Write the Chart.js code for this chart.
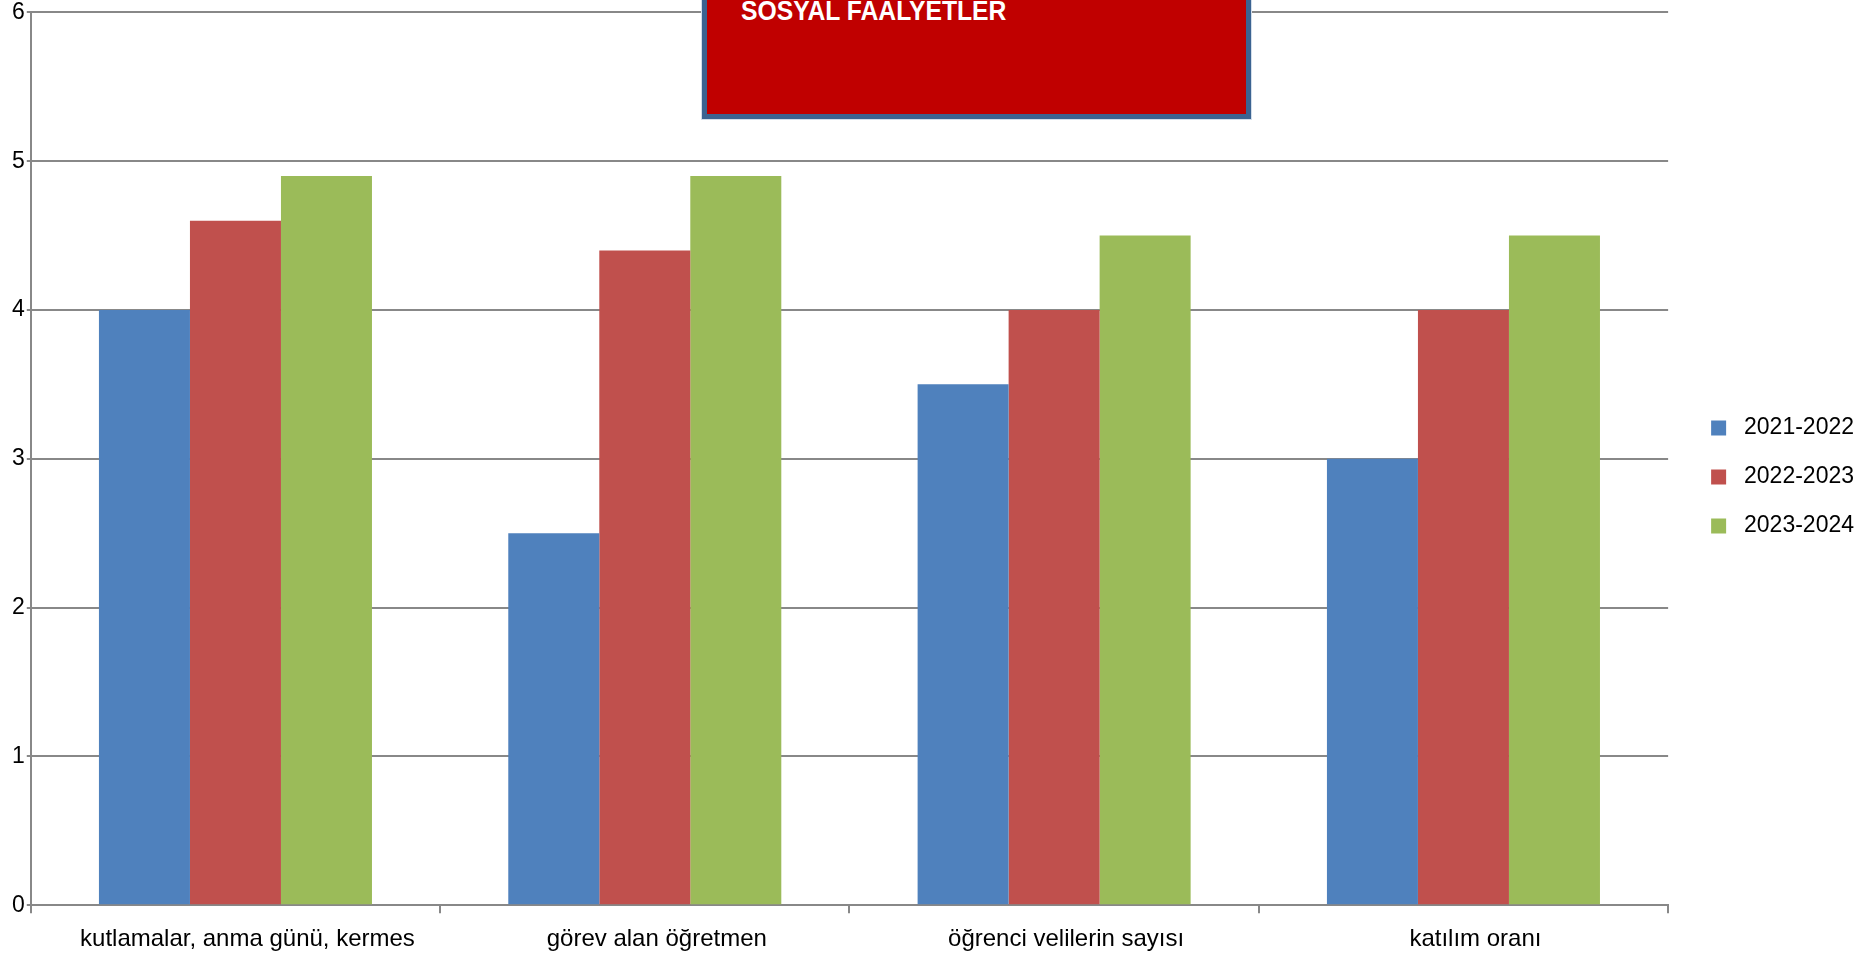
<!DOCTYPE html>
<html>
<head>
<meta charset="utf-8">
<script src="https://cdn.jsdelivr.net/npm/chart.js@4/dist/chart.umd.min.js"></script>
<style>
    html, body { margin: 0; padding: 0; background: #fff; overflow: hidden; }
    #wrap { position: relative; width: 1875px; height: 962px; }
    #titleBox {
        position: absolute; left: 702px; top: -25px; width: 549px; height: 144px;
        box-sizing: border-box; background: #C00000; border: 5px solid #3B6391;
        outline: 1px solid #d3deea;
    }
    #titleBox span {
        position: absolute; left: 34px; top: 18px; white-space: nowrap; line-height: 1;
        font-family: 'Liberation Sans', Arial, sans-serif; font-weight: bold;
        font-size: 27px; color: #fff; transform: scaleX(0.915); transform-origin: left top;
    }
</style>
</head>
<body>
<div id="wrap">
    <canvas id="salesChart" width="1875" height="962"></canvas>
    <div id="titleBox"><span>SOSYAL FAALYETLER</span></div>
</div>
<script>
const categories = ['kutlamalar, anma günü, kermes', 'görev alan öğretmen', 'öğrenci velilerin sayısı', 'katılım oranı'];
const seriesNames = ['2021-2022', '2022-2023', '2023-2024'];
const values2021 = [4.0, 2.5, 3.5, 3.0];
const values2022 = [4.6, 4.4, 4.0, 4.0];
const values2023 = [4.9, 4.9, 4.5, 4.5];
const yTicks = [0, 1, 2, 3, 4, 5, 6];
const colors = ['#4F81BD', '#C0504D', '#9BBB59'];

const LEGEND_GAP = 17;
const LEGEND_SHIFT_UP = 6;

// push the legend items away from the plot without widening the row spacing
const legendGapPlugin = {
    id: 'legendGap',
    beforeLayout(chart) {
        const lg = chart.legend;
        if (lg && !lg._gapWrapped) {
            const fit = lg.fit;
            lg.fit = function() {
                fit.call(this);
                this.width += LEGEND_GAP;
            };
            lg._gapWrapped = true;
        }
    },
    afterLayout(chart) {
        if (chart.legend) {
            chart.legend.left += LEGEND_GAP;
            chart.legend.top -= LEGEND_SHIFT_UP;
            chart.legend.bottom -= LEGEND_SHIFT_UP;
        }
    }
};

document.addEventListener('DOMContentLoaded', function() {
    const ctx = document.getElementById('salesChart').getContext('2d');
    const seriesValues = [values2021, values2022, values2023];

    new Chart(ctx, {
        type: 'bar',
        data: {
            labels: categories,
            datasets: seriesNames.map((name, i) => ({
                label: name,
                data: seriesValues[i],
                backgroundColor: colors[i],
                borderWidth: 0,
                categoryPercentage: 0.667,
                barPercentage: 1.0
            }))
        },
        options: {
            responsive: false,
            animation: false,
            devicePixelRatio: 1,
            layout: {
                padding: { left: 10, right: 11, top: 0, bottom: -4 }
            },
            plugins: {
                legend: {
                    position: 'right',
                    labels: {
                        boxWidth: 15,
                        boxHeight: 15,
                        padding: 26,
                        color: '#000',
                        font: { family: 'Liberation Sans', size: 23 },
                        generateLabels: function(chart) {
                            const items = Chart.defaults.plugins.legend.labels.generateLabels(chart);
                            items.forEach(item => { item.text = ' ' + item.text; });
                            return items;
                        }
                    }
                },
                title: { display: false },
                tooltip: { enabled: false }
            },
            scales: {
                x: {
                    grid: {
                        offset: true,
                        drawOnChartArea: false,
                        drawTicks: true,
                        tickLength: 8,
                        color: '#888',
                        lineWidth: 2
                    },
                    border: { color: '#888', width: 2 },
                    ticks: {
                        padding: 12,
                        labelOffset: 12,
                        color: '#000',
                        maxRotation: 0,
                        font: { family: 'Liberation Sans', size: 24, lineHeight: 1.2 }
                    }
                },
                y: {
                    min: 0,
                    max: 6,
                    afterBuildTicks: function(scale) {
                        scale.ticks = yTicks.map(v => ({ value: v }));
                    },
                    grid: {
                        color: '#888',
                        lineWidth: 2,
                        tickLength: 4
                    },
                    border: { color: '#888', width: 2 },
                    ticks: {
                        padding: 2,
                        color: '#000',
                        font: { family: 'Liberation Sans', size: 23, lineHeight: 0.9 }
                    }
                }
            }
        },
        plugins: [legendGapPlugin]
    });
});
</script>
</body>
</html>
